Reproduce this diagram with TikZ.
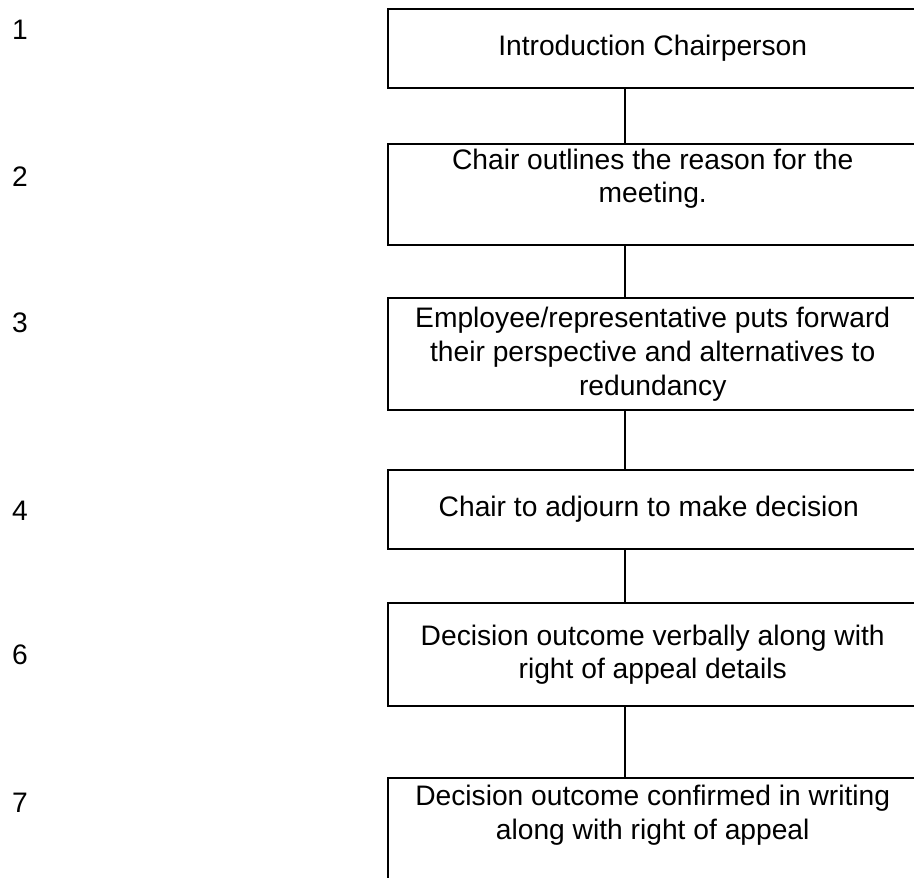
\documentclass[tikz,border=0pt]{standalone}
\usepackage{fontspec}
\setmainfont{Liberation Sans}
\usetikzlibrary{positioning}

\begin{document}
\begin{tikzpicture}[
  stage/.style={
    draw=black,
    line width=1.2pt,
    minimum width=264.5pt,
    align=center,
    inner sep=0pt,
    font=\fontsize{14.1pt}{16.8pt}\selectfont
  },
  link/.style={draw=black, line width=1.1pt},
  stepno/.style={font=\fontsize{14.1pt}{16.8pt}\selectfont}
]

\useasboundingbox (0,0) rectangle (457pt,-438.5pt);
\clip (0,0) rectangle (457pt,-438.5pt);

\node[stage, minimum height=39.5pt, anchor=north west] (intro)
  at (193.5pt,-4pt) {Introduction Chairperson};

\node[stage, minimum height=50.5pt, below=26.8pt of intro] (reason) {
  Chair outlines the reason for the\\
  meeting.\\[-3pt]
  \strut
};

\node[stage, minimum height=56pt, below=25.3pt of reason] (perspective) {
  Employee/representative puts forward\\
  their perspective and alternatives to\\
  redundancy
};

\node[stage, minimum height=39.5pt, below=28.8pt of perspective] (adjourn) {
  Chair to adjourn to make decision
};

\node[stage, minimum height=51.5pt, below=25.8pt of adjourn] (verbal) {
  Decision outcome verbally along with\\
  right of appeal details
};

\node[stage, minimum height=56pt, below=34.8pt of verbal] (writing) {
  Decision outcome confirmed in writing\\
  along with right of appeal\\
  \strut
};

% step numbers on the left
\node[stepno] (n1) at (10pt,-15pt) {1};
\node[stepno] (n2) at (10pt,-88.5pt) {2};
\node[stepno] (n3) at (10pt,-161.5pt) {3};
\node[stepno] (n4) at (10pt,-255.5pt) {4};
\node[stepno] (n6) at (10pt,-327.5pt) {6};
\node[stepno] (n7) at (10pt,-401.25pt) {7};

% connectors
\coordinate (spine) at (312.5pt,0);
\draw[link] (intro.south -| spine) -- (reason.north -| spine);
\draw[link] (reason.south -| spine) -- (perspective.north -| spine);
\draw[link] (perspective.south -| spine) -- (adjourn.north -| spine);
\draw[link] (adjourn.south -| spine) -- (verbal.north -| spine);
\draw[link] (verbal.south -| spine) -- (writing.north -| spine);

\end{tikzpicture}
\end{document}
